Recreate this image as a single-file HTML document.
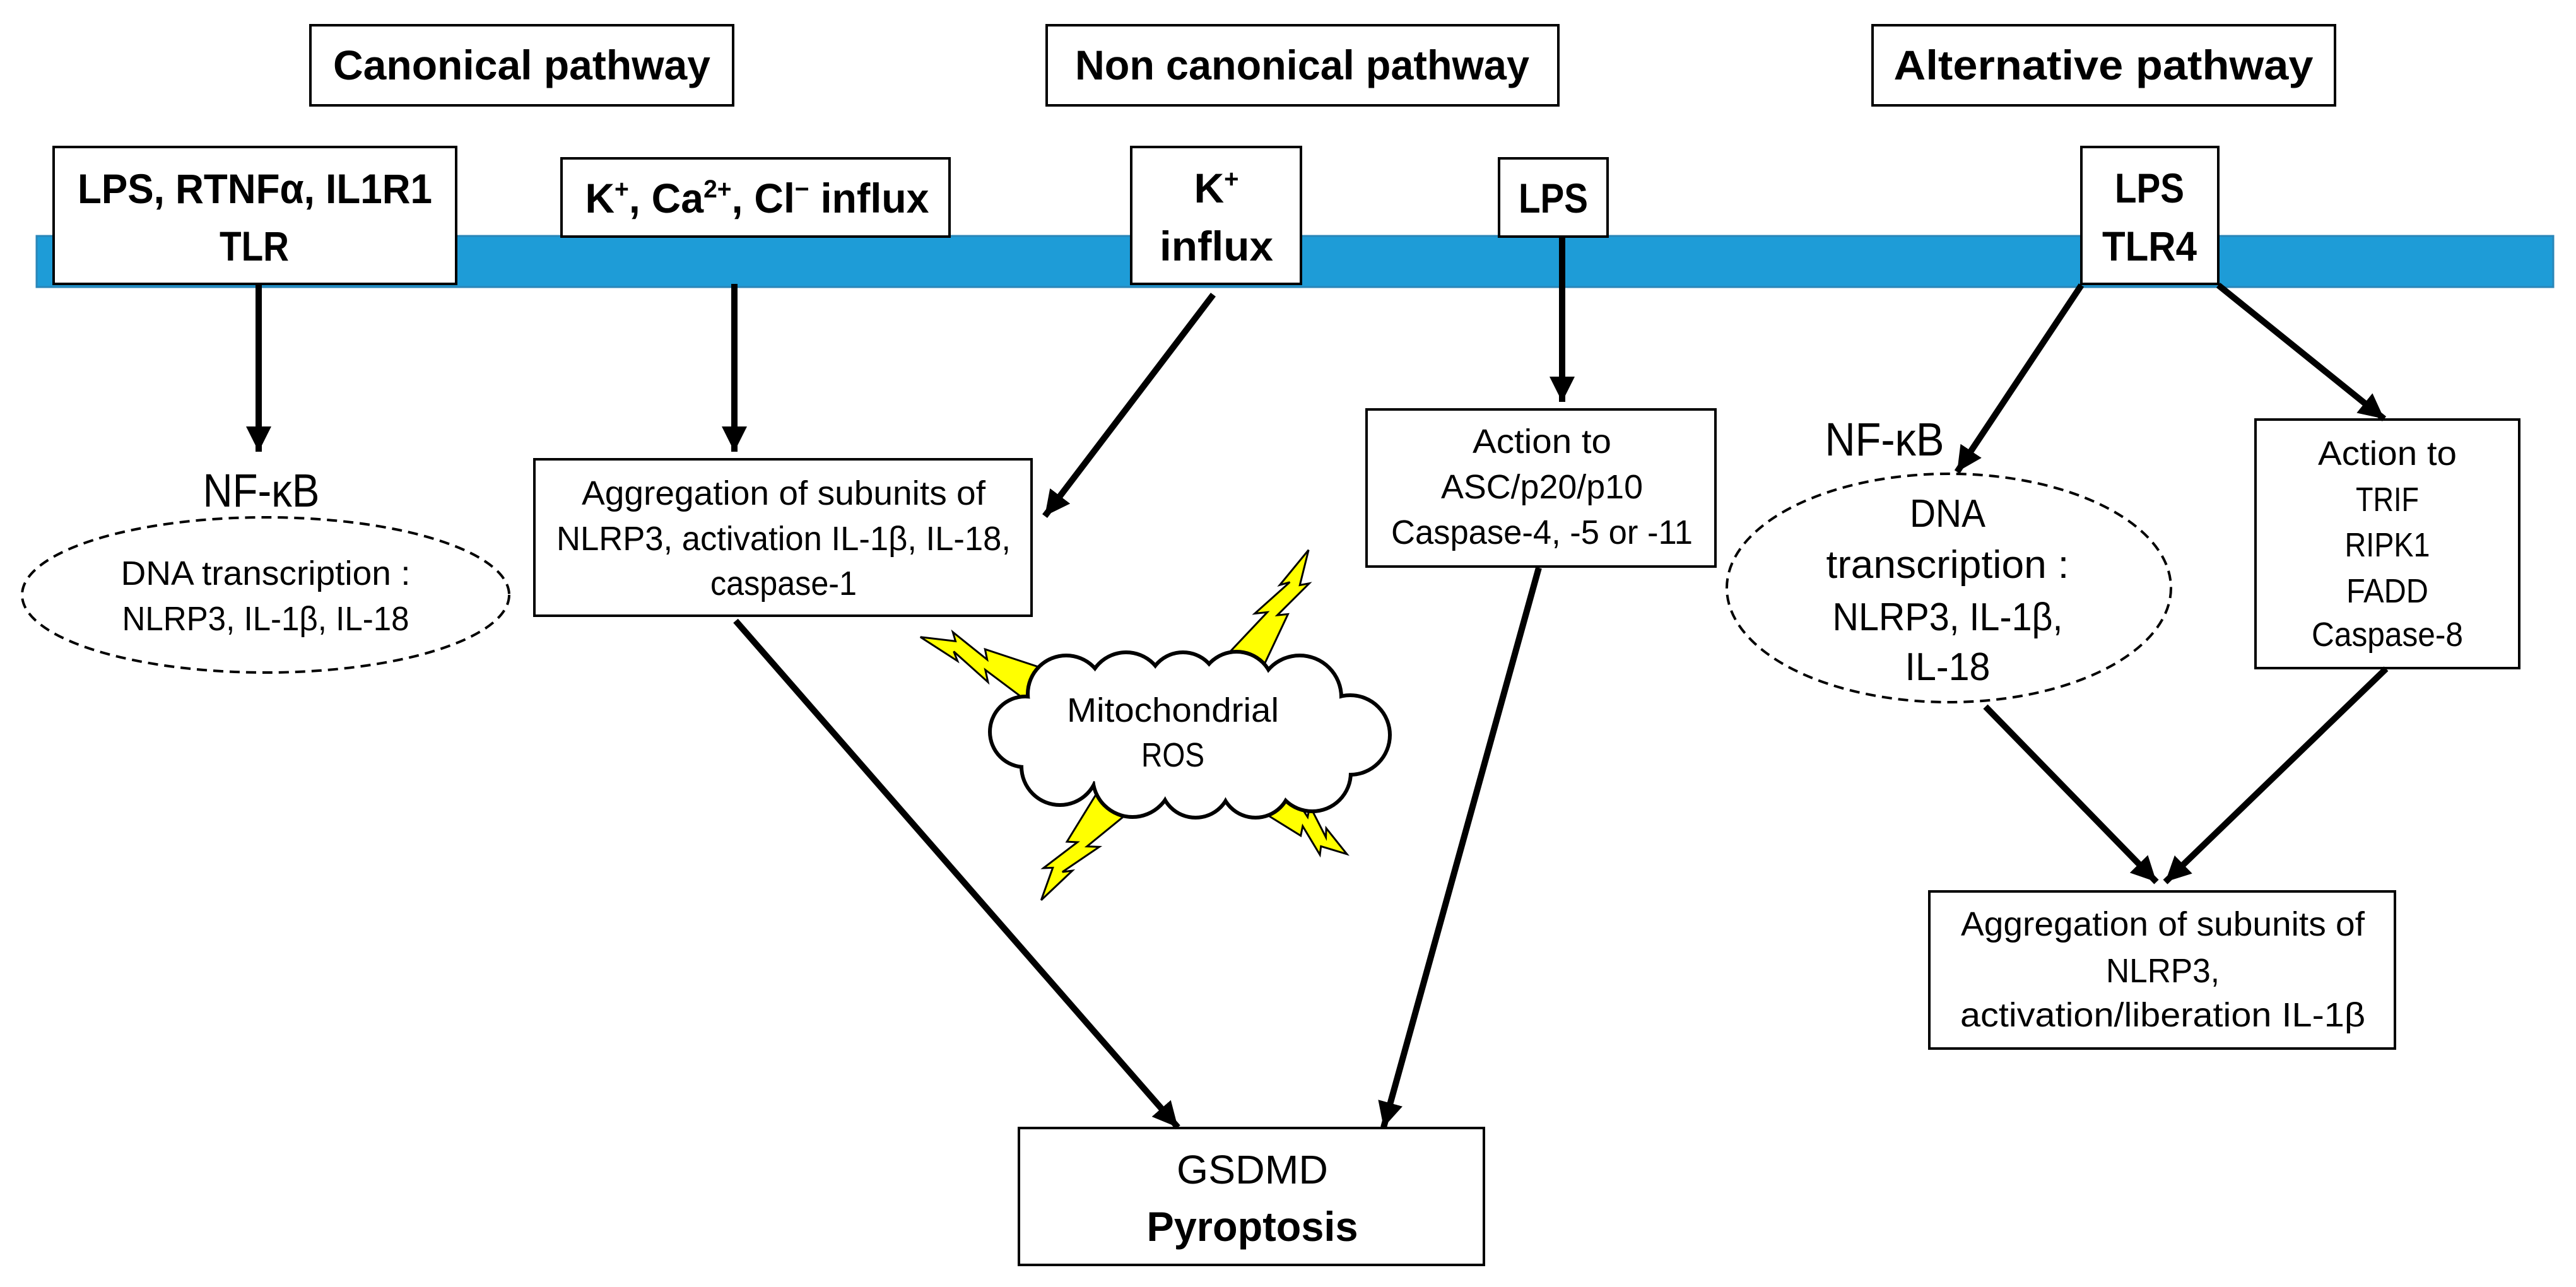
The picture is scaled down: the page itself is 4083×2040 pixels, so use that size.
<!DOCTYPE html>
<html><head><meta charset="utf-8"><style>
html,body{margin:0;padding:0;background:#fff;}
svg{display:block;}
text{font-family:"Liberation Sans",sans-serif;fill:#000;}
.b{font-weight:bold;font-size:66px;}
.n{font-size:54px;}
</style></head><body>
<svg width="4083" height="2040" viewBox="0 0 4083 2040" xmlns="http://www.w3.org/2000/svg">
<defs>
<marker id="ah" markerUnits="userSpaceOnUse" markerWidth="44" markerHeight="44" refX="40" refY="20" orient="auto">
<path d="M0,0 L40,20 L0,40 Z" fill="#000"/>
</marker>
</defs>
<rect width="4083" height="2040" fill="#fff"/>

<rect x="58" y="374" width="3989" height="81" fill="#1e9cd7" stroke="#2a86b8" stroke-width="3"/>

<g fill="#fff" stroke="#000" stroke-width="4">
<rect x="492" y="40" width="670" height="127"/>
<rect x="1659" y="40" width="811" height="127"/>
<rect x="2968" y="40" width="733" height="127"/>
</g>
<text class="b" x="827" y="126" text-anchor="middle" textLength="598" lengthAdjust="spacingAndGlyphs">Canonical pathway</text>
<text class="b" x="2064" y="126" text-anchor="middle" textLength="720" lengthAdjust="spacingAndGlyphs">Non canonical pathway</text>
<text class="b" x="3334" y="126" text-anchor="middle" textLength="665" lengthAdjust="spacingAndGlyphs">Alternative  pathway</text>

<g fill="#fff" stroke="#000" stroke-width="4">
<rect x="85" y="233" width="638" height="217"/>
<rect x="890" y="251" width="615" height="124"/>
<rect x="1793" y="233" width="269" height="217"/>
<rect x="2376" y="251" width="172" height="124"/>
<rect x="3299" y="233" width="217" height="217"/>
</g>
<text class="b" x="404" y="322" text-anchor="middle" textLength="562" lengthAdjust="spacingAndGlyphs">LPS, RTNFα, IL1R1</text>
<text class="b" x="403" y="413" text-anchor="middle" textLength="110" lengthAdjust="spacingAndGlyphs">TLR</text>
<text class="b" x="1200" y="337" text-anchor="middle" textLength="545" lengthAdjust="spacingAndGlyphs">K<tspan font-size="40" dy="-24">+</tspan><tspan dy="24">, Ca</tspan><tspan font-size="40" dy="-24">2+</tspan><tspan dy="24">, Cl</tspan><tspan font-size="40" dy="-24">−</tspan><tspan dy="24"> influx</tspan></text>
<text class="b" x="1928" y="321" text-anchor="middle">K<tspan font-size="40" dy="-24">+</tspan></text>
<text class="b" x="1928" y="413" text-anchor="middle" textLength="180" lengthAdjust="spacingAndGlyphs">influx</text>
<text class="b" x="2462" y="337" text-anchor="middle" textLength="110" lengthAdjust="spacingAndGlyphs">LPS</text>
<text class="b" x="3407" y="321" text-anchor="middle" textLength="110" lengthAdjust="spacingAndGlyphs">LPS</text>
<text class="b" x="3407" y="413" text-anchor="middle" textLength="150" lengthAdjust="spacingAndGlyphs">TLR4</text>

<text x="414" y="803" text-anchor="middle" font-size="74" textLength="185" lengthAdjust="spacingAndGlyphs">NF-κB</text>
<ellipse cx="421" cy="943" rx="386" ry="123" fill="#fff" stroke="#000" stroke-width="4" stroke-dasharray="16 10"/>
<text class="n" x="421" y="927" text-anchor="middle" textLength="459" lengthAdjust="spacingAndGlyphs">DNA transcription :</text>
<text class="n" x="421" y="999" text-anchor="middle" textLength="455" lengthAdjust="spacingAndGlyphs">NLRP3, IL-1β, IL-18</text>

<rect x="847" y="728" width="788" height="248" fill="#fff" stroke="#000" stroke-width="4"/>
<text class="n" x="1242" y="800" text-anchor="middle" textLength="640" lengthAdjust="spacingAndGlyphs">Aggregation of subunits of</text>
<text class="n" x="1242" y="872" text-anchor="middle" textLength="720" lengthAdjust="spacingAndGlyphs">NLRP3, activation IL-1β, IL-18,</text>
<text class="n" x="1242" y="943" text-anchor="middle" textLength="232" lengthAdjust="spacingAndGlyphs">caspase-1</text>

<rect x="2166" y="649" width="553" height="249" fill="#fff" stroke="#000" stroke-width="4"/>
<text class="n" x="2444" y="718" text-anchor="middle" textLength="220" lengthAdjust="spacingAndGlyphs">Action to</text>
<text class="n" x="2444" y="790" text-anchor="middle" textLength="320" lengthAdjust="spacingAndGlyphs">ASC/p20/p10</text>
<text class="n" x="2444" y="862" text-anchor="middle" textLength="478" lengthAdjust="spacingAndGlyphs">Caspase-4, -5 or -11</text>

<text x="2987" y="722" text-anchor="middle" font-size="74" textLength="189" lengthAdjust="spacingAndGlyphs">NF-κB</text>
<ellipse cx="3089" cy="932" rx="352" ry="181" fill="#fff" stroke="#000" stroke-width="4" stroke-dasharray="16 10"/>
<text x="3087" y="835" text-anchor="middle" font-size="62" textLength="120" lengthAdjust="spacingAndGlyphs">DNA</text>
<text x="3087" y="916" text-anchor="middle" font-size="62" textLength="385" lengthAdjust="spacingAndGlyphs">transcription :</text>
<text x="3087" y="999" text-anchor="middle" font-size="62" textLength="365" lengthAdjust="spacingAndGlyphs">NLRP3, IL-1β,</text>
<text x="3087" y="1078" text-anchor="middle" font-size="62" textLength="135" lengthAdjust="spacingAndGlyphs">IL-18</text>

<rect x="3575" y="665" width="418" height="394" fill="#fff" stroke="#000" stroke-width="4"/>
<text class="n" x="3784" y="737" text-anchor="middle" textLength="220" lengthAdjust="spacingAndGlyphs">Action to</text>
<text class="n" x="3784" y="810" text-anchor="middle" textLength="100" lengthAdjust="spacingAndGlyphs">TRIF</text>
<text class="n" x="3784" y="882" text-anchor="middle" textLength="135" lengthAdjust="spacingAndGlyphs">RIPK1</text>
<text class="n" x="3784" y="955" text-anchor="middle" textLength="130" lengthAdjust="spacingAndGlyphs">FADD</text>
<text class="n" x="3784" y="1024" text-anchor="middle" textLength="240" lengthAdjust="spacingAndGlyphs">Caspase-8</text>

<rect x="3058" y="1413" width="738" height="249" fill="#fff" stroke="#000" stroke-width="4"/>
<text class="n" x="3428" y="1483" text-anchor="middle" textLength="640" lengthAdjust="spacingAndGlyphs">Aggregation of subunits of</text>
<text class="n" x="3428" y="1557" text-anchor="middle" textLength="180" lengthAdjust="spacingAndGlyphs">NLRP3,</text>
<text class="n" x="3428" y="1627" text-anchor="middle" textLength="642" lengthAdjust="spacingAndGlyphs">activation/liberation  IL-1β</text>

<rect x="1615" y="1788" width="737" height="217" fill="#fff" stroke="#000" stroke-width="4"/>
<text x="1985" y="1876" text-anchor="middle" font-size="64" textLength="240" lengthAdjust="spacingAndGlyphs">GSDMD</text>
<text x="1985" y="1967" text-anchor="middle" font-size="66" font-weight="bold" textLength="335" lengthAdjust="spacingAndGlyphs">Pyroptosis</text>

<g fill="#ffff00" stroke="#000" stroke-width="3">
<polygon vector-effect="non-scaling-stroke" transform="translate(1635,1086) rotate(203.4) scale(192,1.15)" points="-0.2,-30 0.4,-6 0.34,-20 0.7,0 0.64,-10 1,0 0.72,14 0.77,24 0.42,8 0.47,20 -0.2,30"/>
<polygon vector-effect="non-scaling-stroke" transform="translate(1975,1042) rotate(-59.8) scale(197,1.15)" points="-0.2,-30 0.4,-6 0.34,-20 0.7,0 0.64,-10 1,0 0.72,14 0.77,24 0.42,8 0.47,20 -0.2,30"/>
<polygon vector-effect="non-scaling-stroke" transform="translate(1762,1278) rotate(126.9) scale(186,1.15)" points="-0.2,-30 0.4,-6 0.34,-20 0.7,0 0.64,-10 1,0 0.72,14 0.77,24 0.42,8 0.47,20 -0.2,30"/>
<polygon vector-effect="non-scaling-stroke" transform="translate(2024,1265) rotate(38.7) scale(142,1.15)" points="-0.2,-30 0.4,-6 0.34,-20 0.7,0 0.64,-10 1,0 0.72,14 0.77,24 0.42,8 0.47,20 -0.2,30"/>
</g>

<g stroke="#000" stroke-width="8" fill="#fff">
<circle cx="1625" cy="1160" r="55"/>
<circle cx="1690" cy="1100" r="60"/>
<circle cx="1785" cy="1095" r="60"/>
<circle cx="1875" cy="1090" r="55"/>
<circle cx="1960" cy="1092" r="58"/>
<circle cx="2060" cy="1105" r="65"/>
<circle cx="2140" cy="1165" r="62"/>
<circle cx="2080" cy="1225" r="60"/>
<circle cx="1990" cy="1240" r="55"/>
<circle cx="1895" cy="1240" r="55"/>
<circle cx="1795" cy="1232" r="62"/>
<circle cx="1680" cy="1215" r="60"/>
</g>
<g fill="#fff">
<circle cx="1625" cy="1160" r="53"/>
<circle cx="1690" cy="1100" r="58"/>
<circle cx="1785" cy="1095" r="58"/>
<circle cx="1875" cy="1090" r="53"/>
<circle cx="1960" cy="1092" r="56"/>
<circle cx="2060" cy="1105" r="63"/>
<circle cx="2140" cy="1165" r="60"/>
<circle cx="2080" cy="1225" r="58"/>
<circle cx="1990" cy="1240" r="53"/>
<circle cx="1895" cy="1240" r="53"/>
<circle cx="1795" cy="1232" r="60"/>
<circle cx="1680" cy="1215" r="58"/>
<ellipse cx="1880" cy="1165" rx="250" ry="90"/>
</g>
<text class="n" x="1859" y="1144" text-anchor="middle" textLength="336" lengthAdjust="spacingAndGlyphs">Mitochondrial</text>
<text class="n" x="1859" y="1215" text-anchor="middle" textLength="100" lengthAdjust="spacingAndGlyphs">ROS</text>

<g stroke="#000" stroke-width="10" fill="none" marker-end="url(#ah)">
<line x1="410" y1="450" x2="410" y2="716"/>
<line x1="1164" y1="450" x2="1164" y2="716"/>
<line x1="1923" y1="467" x2="1656" y2="818"/>
<line x1="2476" y1="375" x2="2476" y2="637"/>
<line x1="3299" y1="452" x2="3102" y2="748"/>
<line x1="3516" y1="452" x2="3779" y2="664"/>
<line x1="1166" y1="984" x2="1867" y2="1787"/>
<line x1="2439" y1="900" x2="2193" y2="1787"/>
<line x1="3147" y1="1120" x2="3418" y2="1398"/>
<line x1="3782" y1="1060" x2="3432" y2="1398"/>
</g>
</svg>
</body></html>
